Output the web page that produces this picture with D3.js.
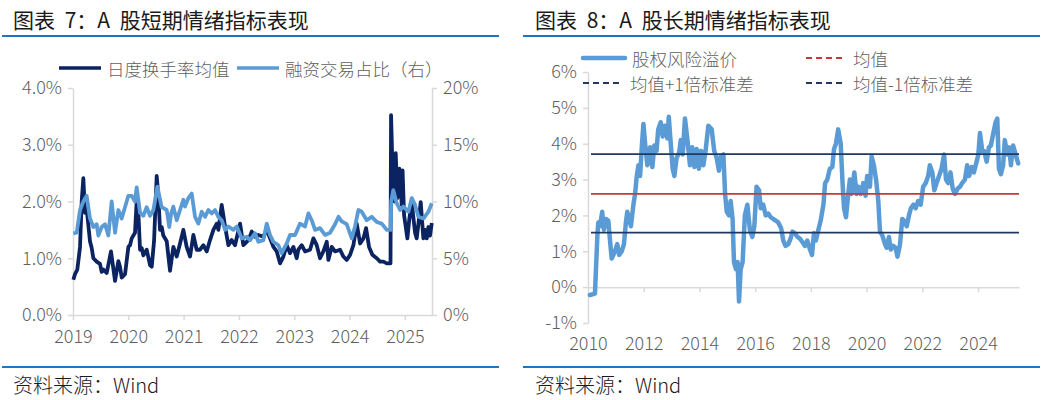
<!DOCTYPE html>
<html><head><meta charset="utf-8">
<script src="https://cdn.jsdelivr.net/npm/d3@7"></script>
<style>
body{margin:0;background:#fff;}
svg{display:block;font-family:"Noto Sans CJK SC","Noto Sans",sans-serif;}
</style>
</head><body>
<svg id="c" width="1046" height="400"></svg>
<script>
// ---------------- DATA ----------------
const leftTitle = "图表 7：A 股短期情绪指标表现";
const rightTitle = "图表 8：A 股长期情绪指标表现";
const sourceText = "资料来源：Wind";

const leftSeriesNames = ["日度换手率均值", "融资交易占比（右）"];
const rightSeriesNames = ["股权风险溢价", "均值", "均值+1倍标准差", "均值-1倍标准差"];

const leftYearTicks = [2019, 2020, 2021, 2022, 2023, 2024, 2025];
const leftAxisTicks = [0, 1, 2, 3, 4];          // %
const rightAxisTicks = [0, 5, 10, 15, 20];      // %
const erpYearTicks = [2010, 2012, 2014, 2016, 2018, 2020, 2022, 2024];
const erpAxisTicks = [-1, 0, 1, 2, 3, 4, 5, 6]; // %

// 日度换手率均值 (%), left axis
const turnoverYears = [2019.006,2019.036,2019.078,2019.127,2019.157,2019.187,2019.217,2019.247,2019.307,2019.338,2019.368,2019.428,2019.488,2019.519,2019.549,2019.609,2019.687,2019.760,2019.820,2019.850,2019.880,2019.941,2020.001,2020.031,2020.061,2020.121,2020.151,2020.182,2020.212,2020.242,2020.272,2020.332,2020.393,2020.423,2020.465,2020.513,2020.543,2020.573,2020.604,2020.633,2020.694,2020.754,2020.814,2020.875,2020.935,2020.995,2021.055,2021.116,2021.176,2021.236,2021.297,2021.357,2021.417,2021.477,2021.538,2021.598,2021.628,2021.688,2021.749,2021.809,2021.869,2021.929,2022.020,2022.080,2022.171,2022.231,2022.291,2022.351,2022.442,2022.502,2022.562,2022.623,2022.683,2022.743,2022.803,2022.864,2022.924,2022.984,2023.044,2023.074,2023.135,2023.195,2023.285,2023.346,2023.406,2023.466,2023.526,2023.587,2023.617,2023.677,2023.737,2023.828,2023.888,2023.948,2024.009,2024.069,2024.129,2024.190,2024.250,2024.298,2024.352,2024.412,2024.491,2024.551,2024.611,2024.672,2024.740,2024.750,2024.775,2024.792,2024.815,2024.834,2024.864,2024.900,2024.943,2024.958,2024.985,2025.010,2025.045,2025.081,2025.123,2025.150,2025.184,2025.214,2025.244,2025.286,2025.334,2025.365,2025.395,2025.425,2025.455,2025.486];
const turnover = [0.62,0.72,0.8,1.2,2.0,2.41,1.8,1.88,1.3,1.18,1.0,0.94,0.9,0.76,0.8,0.74,1.12,0.6,0.95,0.85,0.66,0.72,1.2,1.23,1.35,1.45,2.0,1.8,1.15,1.18,1.05,1.15,0.88,0.85,1.3,2.45,2.1,1.5,1.55,1.4,1.3,0.78,1.2,1.03,1.26,1.5,1.2,1.03,1.41,1.15,1.15,1.23,1.12,1.32,1.5,1.61,1.5,1.94,1.56,1.23,1.32,1.23,1.61,1.23,1.32,1.47,1.38,1.41,1.38,1.5,1.35,1.2,1.12,0.91,1.03,1.23,1.09,1.2,1.0,1.15,1.23,1.12,1.15,1.35,1.23,1.0,1.12,1.29,0.97,1.2,1.12,1.15,1.03,0.97,1.06,1.23,1.61,1.26,1.35,1.53,1.2,1.06,1.0,0.94,0.94,0.91,0.91,3.52,2.6,2.23,2.0,2.85,2.06,2.58,1.94,2.55,1.76,1.59,1.35,1.7,1.99,1.75,1.45,1.35,1.6,1.99,1.35,1.5,1.35,1.55,1.4,1.62];

// 融资交易占比 (%), right axis
const marginYears = [2019.006,2019.066,2019.127,2019.187,2019.247,2019.307,2019.368,2019.428,2019.458,2019.518,2019.579,2019.639,2019.699,2019.760,2019.820,2019.880,2019.940,2020.001,2020.061,2020.121,2020.151,2020.212,2020.272,2020.332,2020.392,2020.453,2020.525,2020.603,2020.694,2020.740,2020.775,2020.814,2020.875,2020.935,2020.995,2021.025,2021.085,2021.146,2021.206,2021.266,2021.327,2021.387,2021.447,2021.508,2021.568,2021.628,2021.688,2021.749,2021.809,2021.899,2021.960,2022.050,2022.140,2022.201,2022.291,2022.351,2022.442,2022.502,2022.562,2022.623,2022.713,2022.773,2022.864,2022.924,2023.014,2023.104,2023.195,2023.255,2023.315,2023.376,2023.466,2023.556,2023.647,2023.737,2023.800,2023.858,2023.948,2024.039,2024.099,2024.159,2024.220,2024.310,2024.400,2024.491,2024.581,2024.672,2024.740,2024.752,2024.790,2024.852,2024.913,2024.973,2025.063,2025.124,2025.184,2025.244,2025.335,2025.425,2025.486];
const marginShare = [7.2,7.25,9.25,10.0,10.5,8.5,7.75,8.0,7.0,7.75,8.0,7.0,10.0,7.25,9.25,8.5,9.5,10.5,10.5,10.0,11.25,9.0,8.75,9.5,8.75,9.25,11.3,9.5,9.25,7.75,8.95,9.55,8.35,9.25,10.15,9.55,10.3,10.7,8.65,8.05,9.1,8.65,9.25,8.95,9.25,8.65,8.35,7.5,7.8,7.5,7.8,6.75,6.9,6.6,7.2,6.45,6.6,8.05,7.05,6.45,6.15,5.45,6.3,7.05,7.05,8.05,7.8,8.95,8.35,7.5,7.65,7.05,7.25,8.0,8.65,8.25,8.0,6.75,7.8,9.25,9.1,8.35,8.65,8.2,8.05,7.5,7.5,10.0,11.0,9.85,9.25,9.55,9.1,10.3,9.7,8.65,8.5,9.1,9.85];

// 股权风险溢价 (%)
const erpYears = [2010.07,2010.25,2010.34,2010.37,2010.43,2010.51,2010.57,2010.65,2010.73,2010.79,2010.85,2010.97,2011.05,2011.12,2011.21,2011.29,2011.36,2011.41,2011.48,2011.54,2011.63,2011.69,2011.75,2011.81,2011.87,2011.93,2011.99,2012.05,2012.13,2012.23,2012.31,2012.38,2012.46,2012.52,2012.61,2012.68,2012.76,2012.85,2012.90,2012.97,2013.04,2013.10,2013.18,2013.27,2013.33,2013.40,2013.48,2013.57,2013.66,2013.74,2013.82,2013.90,2013.98,2014.06,2014.14,2014.22,2014.32,2014.44,2014.53,2014.62,2014.70,2014.77,2014.86,2014.92,2014.98,2015.06,2015.12,2015.19,2015.24,2015.31,2015.37,2015.42,2015.48,2015.55,2015.63,2015.72,2015.81,2015.90,2015.97,2016.05,2016.14,2016.20,2016.29,2016.38,2016.47,2016.56,2016.65,2016.75,2016.83,2016.93,2017.01,2017.09,2017.19,2017.27,2017.34,2017.43,2017.52,2017.61,2017.70,2017.79,2017.87,2017.97,2018.04,2018.11,2018.18,2018.27,2018.35,2018.45,2018.51,2018.59,2018.68,2018.77,2018.83,2018.90,2018.98,2019.07,2019.14,2019.19,2019.26,2019.34,2019.40,2019.46,2019.56,2019.64,2019.70,2019.79,2019.88,2019.96,2020.02,2020.12,2020.18,2020.26,2020.34,2020.42,2020.48,2020.56,2020.66,2020.72,2020.80,2020.87,2020.96,2021.04,2021.11,2021.20,2021.28,2021.35,2021.44,2021.52,2021.59,2021.68,2021.76,2021.85,2021.94,2022.03,2022.12,2022.21,2022.27,2022.36,2022.43,2022.51,2022.60,2022.69,2022.78,2022.85,2022.93,2023.01,2023.09,2023.17,2023.27,2023.35,2023.43,2023.53,2023.61,2023.68,2023.77,2023.85,2023.95,2024.01,2024.07,2024.15,2024.22,2024.31,2024.39,2024.46,2024.55,2024.63,2024.69,2024.75,2024.82,2024.90,2024.96,2025.05,2025.12,2025.18,2025.26,2025.35,2025.44];
const erp = [-0.22,-0.18,1.5,1.8,1.7,2.1,1.6,1.9,1.85,1.3,0.8,1.0,1.2,0.9,1.0,1.2,1.8,2.1,1.9,1.7,2.3,2.6,3.1,3.4,3.1,3.9,4.55,4.0,3.4,3.9,3.35,3.95,3.8,4.4,4.6,4.2,4.5,4.15,4.75,4.0,3.3,3.1,3.6,3.75,4.1,3.7,4.7,4.1,3.4,3.9,3.35,3.85,3.3,3.8,3.4,3.8,4.5,4.4,3.8,3.6,3.25,3.65,3.7,2.6,2.1,2.0,2.4,1.9,0.7,0.5,0.7,-0.4,0.5,0.7,2.0,2.3,1.6,1.4,1.7,2.8,2.7,2.2,2.3,2.0,2.05,1.95,1.9,1.85,1.8,1.65,1.3,1.15,1.2,1.35,1.55,1.5,1.4,1.35,1.25,1.15,1.3,1.05,0.9,1.5,1.3,1.6,1.85,2.3,2.9,3.0,3.3,3.35,3.85,4.0,4.4,4.0,2.85,2.2,1.95,2.6,3.0,2.6,3.2,2.6,2.8,2.6,2.9,2.55,3.1,2.8,3.65,3.4,3.0,2.4,1.55,1.45,1.2,1.1,1.4,1.05,1.15,1.1,0.85,1.2,1.9,1.85,1.7,2.0,2.2,2.3,2.2,2.4,2.3,2.8,2.9,3.1,3.4,3.2,2.7,2.9,3.1,3.3,3.7,3.0,2.9,3.2,2.75,2.6,2.75,2.8,2.9,3.0,3.4,3.1,3.35,3.2,3.5,3.7,4.3,3.8,3.8,3.5,3.9,3.95,4.3,4.6,4.7,3.3,3.15,3.4,4.1,3.7,3.9,3.4,3.95,3.7,3.45];
const erpMean = 2.6;
const erpUpper = 3.71;
const erpLower = 1.52;

// ---------------- STYLE ----------------
const C_RULE = "#1f74c4", C_AXIS = "#d9d9d9", C_TICK = "#5f5f5f";
const C_DARK = "#0b2461", C_LIGHT = "#5b9bd5", C_RED = "#c8383a", C_NAVY = "#1f3864";

const svg = d3.select("#c");

function frame(x0, x1, tx, title) {
  svg.append("text").attr("x", tx).attr("y", 18.5).attr("dominant-baseline", "central")
    .attr("fill", "#1a1a1a").style("font-size", "21px").style("word-spacing", "5px")
    .style("white-space", "pre").text(title);
  svg.append("line").attr("x1", x0).attr("x2", x1).attr("y1", 36).attr("y2", 36)
    .attr("stroke", C_RULE).attr("stroke-width", 2);
  svg.append("line").attr("x1", x0).attr("x2", x1).attr("y1", 367).attr("y2", 367)
    .attr("stroke", C_RULE).attr("stroke-width", 2);
  svg.append("text").attr("x", tx).attr("y", 384).attr("dominant-baseline", "central")
    .attr("fill", "#1a1a1a").style("font-size", "20px").style("font-weight", 300).text(sourceText);
}
function styleAxis(g, fs) {
  g.attr("font-family", null).attr("font-size", null);
  g.select(".domain").attr("stroke", C_AXIS).attr("stroke-width", 1.5);
  g.selectAll(".tick line").attr("stroke", C_AXIS).attr("stroke-width", 1.5);
  g.selectAll(".tick text").attr("fill", C_TICK).style("font-size", fs || "18px").style("font-weight", 300);
}

frame(2, 499, 13, leftTitle);
frame(523, 1040, 535, rightTitle);

// ---------------- LEFT CHART ----------------
const xL = d3.scaleLinear().domain([2019, 2025.49]).range([73, 432]);
const yL = d3.scaleLinear().domain([0, 4]).range([315, 88]);
const yR = d3.scaleLinear().domain([0, 20]).range([315, 88]);

svg.append("g").attr("transform", "translate(73,0)")
  .call(d3.axisLeft(yL).tickValues(leftAxisTicks).tickFormat(d => d.toFixed(1) + "%")
    .tickSize(5).tickSizeOuter(0).tickPadding(6)).call(styleAxis);
svg.append("g").attr("transform", "translate(432,0)")
  .call(d3.axisRight(yR).tickValues(rightAxisTicks).tickFormat(d => d + "%")
    .tickSize(5).tickSizeOuter(0).tickPadding(6)).call(styleAxis);
const gxL = svg.append("g").attr("transform", "translate(0,315)")
  .call(d3.axisBottom(xL).tickValues(leftYearTicks).tickFormat(d3.format("d"))
    .tickSize(5).tickSizeOuter(0)).call(styleAxis);
gxL.selectAll(".tick text").attr("y", 22).attr("dy", "0.35em");

const lineTurn = d3.line().x((d, i) => xL(turnoverYears[i])).y(d => yL(d));
const lineMargin = d3.line().x((d, i) => xL(marginYears[i])).y(d => yR(d));
svg.append("path").attr("d", lineTurn(turnover)).attr("fill", "none")
  .attr("stroke", C_DARK).attr("stroke-width", 3.8).attr("stroke-linejoin", "round");
svg.append("path").attr("d", lineMargin(marginShare)).attr("fill", "none")
  .attr("stroke", C_LIGHT).attr("stroke-width", 3.8).attr("stroke-linejoin", "round");

// left legend
const legL = [{x: 59, c: C_DARK, t: leftSeriesNames[0]}, {x: 237, c: C_LIGHT, t: leftSeriesNames[1]}];
legL.forEach(l => {
  svg.append("line").attr("x1", l.x).attr("x2", l.x + 42).attr("y1", 68).attr("y2", 68)
    .attr("stroke", l.c).attr("stroke-width", 3.6);
  svg.append("text").attr("x", l.x + 48).attr("y", 68).attr("dominant-baseline", "central")
    .attr("fill", C_TICK).style("font-size", "17.5px").style("font-weight", 300).text(l.t);
});

// ---------------- RIGHT CHART ----------------
const xR = d3.scaleLinear().domain([2010, 2025.47]).range([588, 1019]);
const yE = d3.scaleLinear().domain([-1, 6]).range([323, 72]);

svg.append("g").attr("transform", "translate(588,0)")
  .call(d3.axisLeft(yE).tickValues(erpAxisTicks).tickFormat(d => d + "%")
    .tickSize(5).tickSizeOuter(0).tickPadding(6)).call(styleAxis);
svg.append("g").attr("transform", `translate(0,${yE(0)})`)
  .call(d3.axisBottom(xR).tickValues(erpYearTicks.filter(d => d > 2010)).tickFormat("")
    .tickSize(5).tickSizeOuter(0)).call(styleAxis);
const gxLab = svg.append("g").attr("transform", "translate(0,344)")
  .call(d3.axisBottom(xR).tickValues(erpYearTicks).tickFormat(d3.format("d")).tickSize(0).tickSizeOuter(0))
  .call(styleAxis);
gxLab.select(".domain").remove();
gxLab.selectAll(".tick text").attr("y", 0).attr("dy", "0.35em");

const lineErp = d3.line().x((d, i) => xR(erpYears[i])).y(d => yE(d));
svg.append("path").attr("d", lineErp(erp)).attr("fill", "none")
  .attr("stroke", C_LIGHT).attr("stroke-width", 4.5).attr("stroke-linejoin", "round").attr("stroke-linecap", "round");

[[erpUpper, C_NAVY], [erpMean, C_RED], [erpLower, C_NAVY]].forEach(([v, c]) => {
  svg.append("line").attr("x1", xR.range()[0] + 3).attr("x2", xR.range()[1])
    .attr("y1", yE(v)).attr("y2", yE(v)).attr("stroke", c).attr("stroke-width", 1.6);
});

// right legend
const legR = [
  {x: 583, y: 58, t: rightSeriesNames[0], c: C_LIGHT, w: 4.5, dash: null, len: 42},
  {x: 806, y: 58, t: rightSeriesNames[1], c: C_RED, w: 1.8, dash: "6,4", len: 36},
  {x: 583, y: 83, t: rightSeriesNames[2], c: C_NAVY, w: 1.8, dash: "6,4", len: 37},
  {x: 806, y: 83, t: rightSeriesNames[3], c: C_NAVY, w: 1.8, dash: "6,4", len: 36}
];
legR.forEach(l => {
  svg.append("line").attr("x1", l.x).attr("x2", l.x + l.len).attr("y1", l.y).attr("y2", l.y)
    .attr("stroke", l.c).attr("stroke-width", l.w).attr("stroke-dasharray", l.dash)
    .attr("stroke-linecap", l.dash ? "butt" : "round");
  svg.append("text").attr("x", l.x + (l.dash ? 47 : 49)).attr("y", l.y).attr("dominant-baseline", "central")
    .attr("fill", C_TICK).style("font-size", "17.5px").style("font-weight", 300).text(l.t);
});
</script>
</body></html>
